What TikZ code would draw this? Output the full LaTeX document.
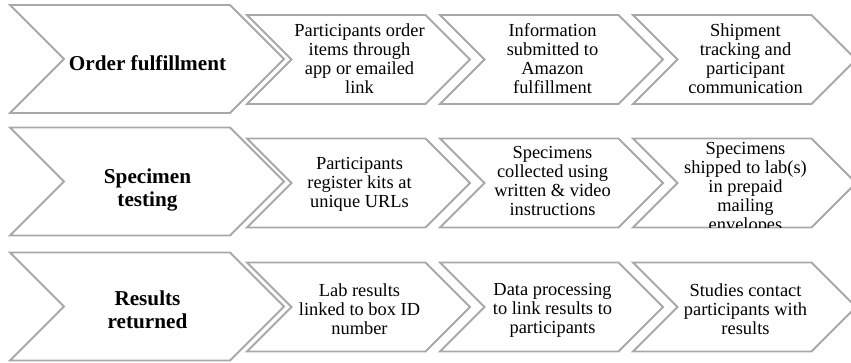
\documentclass[tikz,border=0pt]{standalone}
\usepackage{fontspec}
\setmainfont{Liberation Serif}
\definecolor{edgegray}{RGB}{168,168,168}
\tikzset{
  % chevron: left x, middle y, length to tip, half height (45 degree sides)
  chevshape/.style n args={4}{insert path={
    ({#1},{#2-#4}) -- ({#1+#3-#4},{#2-#4}) -- ({#1+#3},{#2}) --
    ({#1+#3-#4},{#2+#4}) -- ({#1},{#2+#4}) -- ({#1+#4},{#2}) -- cycle}},
  chev/.style={draw=edgegray, line width=1.8pt, fill=white, line join=miter},
  stepbody/.style={font=\fontsize{18.4}{19}\selectfont, align=center, inner sep=0pt},
  stephead/.style={font=\fontsize{21.2}{22.5}\selectfont\bfseries, align=center, inner sep=0pt},
}
\begin{document}
\begin{tikzpicture}[x=1pt, y=-1pt]
\useasboundingbox (0,0) rectangle (851,362);
\clip (0,0) rectangle (851,362);

% ---------- row 1: order fulfillment ----------
\path[chev, chevshape={247}{59.5}{223}{44.5}];
\path[chev, chevshape={440}{59.5}{223}{44.5}];
\path[chev, chevshape={633}{59.5}{223}{44.5}];
\path[chev, chevshape={10}{59}{274}{54}];
\node[stephead] (h1) at (147.5,63) {Order fulfillment};
\begin{scope}\clip[chevshape={247}{59.5}{223}{44.5}];
  \node[stepbody] (s11) at (359.5,59) {Participants order\\items through\\app or emailed\\link};
\end{scope}
\begin{scope}\clip[chevshape={440}{59.5}{223}{44.5}];
  \node[stepbody] (s12) at (552.5,59) {Information\\submitted to\\Amazon\\fulfillment};
\end{scope}
\begin{scope}\clip[chevshape={633}{59.5}{223}{44.5}];
  \node[stepbody] (s13) at (745.5,59) {Shipment\\tracking and\\participant\\communication};
\end{scope}

% ---------- row 2: specimen testing ----------
\path[chev, chevshape={247}{183}{223}{44.5}];
\path[chev, chevshape={440}{183}{223}{44.5}];
\path[chev, chevshape={633}{183}{223}{44.5}];
\path[chev, chevshape={10}{181.5}{274}{54}];
\node[stephead] (h2) at (147.5,190) {Specimen\\testing};
\begin{scope}\clip[chevshape={247}{183}{223}{44.5}];
  \node[stepbody] (s21) at (359.5,184) {Participants\\register kits at\\unique URLs};
\end{scope}
\begin{scope}\clip[chevshape={440}{183}{223}{44.5}];
  \node[stepbody] (s22) at (552.5,181) {Specimens\\collected using\\written \& video\\instructions};
\end{scope}
\begin{scope}\clip[chevshape={633}{183}{223}{44.5}];
  \node[stepbody] (s23) at (745.5,188) {Specimens\\shipped to lab(s)\\in prepaid\\mailing\\envelopes};
\end{scope}

% ---------- row 3: results returned ----------
\path[chev, chevshape={247}{307}{223}{44.5}];
\path[chev, chevshape={440}{307}{223}{44.5}];
\path[chev, chevshape={633}{307}{223}{44.5}];
\path[chev, chevshape={10}{306.5}{274}{54}];
\node[stephead] (h3) at (147.5,310) {Results\\returned};
\begin{scope}\clip[chevshape={247}{307}{223}{44.5}];
  \node[stepbody] (s31) at (359.5,309) {Lab results\\linked to box ID\\number};
\end{scope}
\begin{scope}\clip[chevshape={440}{307}{223}{44.5}];
  \node[stepbody] (s32) at (552.5,310) {Data processing\\to link results to\\participants};
\end{scope}
\begin{scope}\clip[chevshape={633}{307}{223}{44.5}];
  \node[stepbody] (s33) at (745.5,309) {Studies contact\\participants with\\results};
\end{scope}
\end{tikzpicture}
\end{document}
